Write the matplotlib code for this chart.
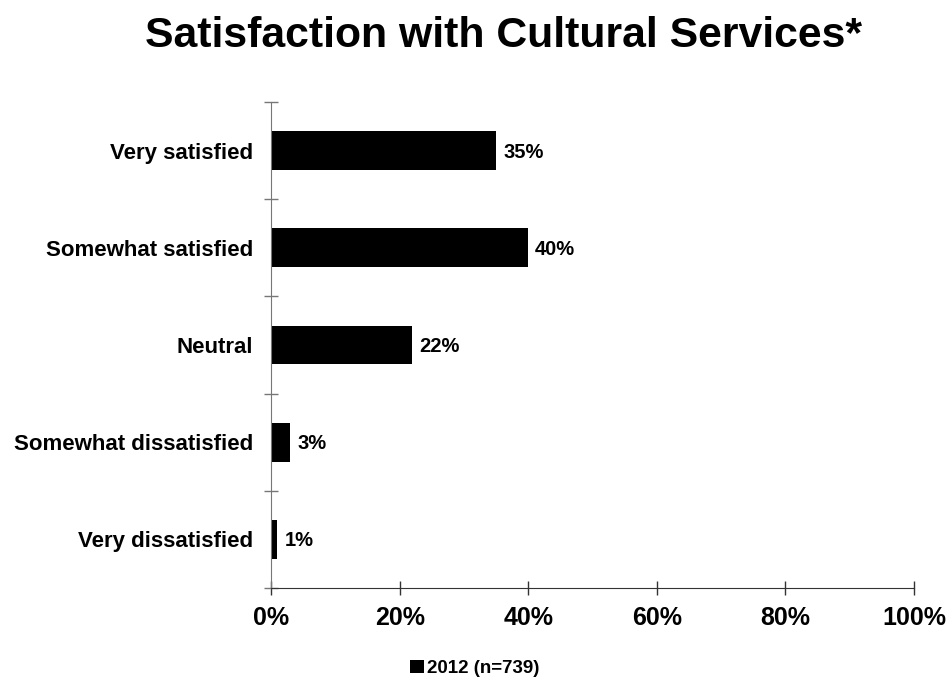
import matplotlib.pyplot as plt
import numpy as np

plt.rcParams['font.family'] = ['Liberation Sans', 'DejaVu Sans']
plt.rcParams['font.weight'] = 'bold'

categories = ["Very satisfied", "Somewhat satisfied", "Neutral",
              "Somewhat dissatisfied", "Very dissatisfied"]
values = [35, 40, 22, 3, 1]
series_label = "2012 (n=739)"
x_ticks = [0, 20, 40, 60, 80, 100]

fig = plt.figure(figsize=(9.5, 6.87), dpi=100)
ax = fig.add_axes([0.2853, 0.1441, 0.6768, 0.7074])

y = np.arange(len(categories))
bars = ax.barh(y, values, height=0.4, color="black", label=series_label)

for b, v in zip(bars, values):
    ax.annotate(f"{v}%", (b.get_width(), b.get_y() + b.get_height() / 2),
                xytext=(5, -1), textcoords="offset points",
                va="center", ha="left", fontsize=14.5, fontweight="bold")

ax.set_xlim(0, 100)
ax.set_ylim(len(categories) - 0.5, -0.5)

ax.set_xticks(x_ticks)
ax.set_xticklabels([f"{t}%" for t in x_ticks], fontsize=18, fontweight="bold")
ax.tick_params(axis="x", direction="inout", length=10, width=1, pad=8,
               color="#333333")

ax.set_yticks(y)
ax.set_yticklabels(categories, fontsize=16, fontweight="bold")
ax.tick_params(axis="y", which="major", length=0, pad=13)
ax.set_yticks(np.arange(-0.5, len(categories)), minor=True)
ax.tick_params(axis="y", which="minor", direction="inout", length=10,
               width=1, color="#777777")

for side in ("top", "right"):
    ax.spines[side].set_visible(False)
ax.spines["left"].set_color("#777777")
ax.spines["bottom"].set_color("#333333")

fig.text(0.5295, 0.9316, "Satisfaction with Cultural Services*",
         fontsize=30.8, fontweight="bold", ha="center", va="baseline")

fig.legend(handles=[bars], labels=[series_label], loc="center",
           bbox_to_anchor=(0.5, 0.027), frameon=False,
           handlelength=0.72, handleheight=0.72, handletextpad=0.2,
           prop={"weight": "bold", "size": 13.5})

fig.savefig("out.png", dpi=100)
